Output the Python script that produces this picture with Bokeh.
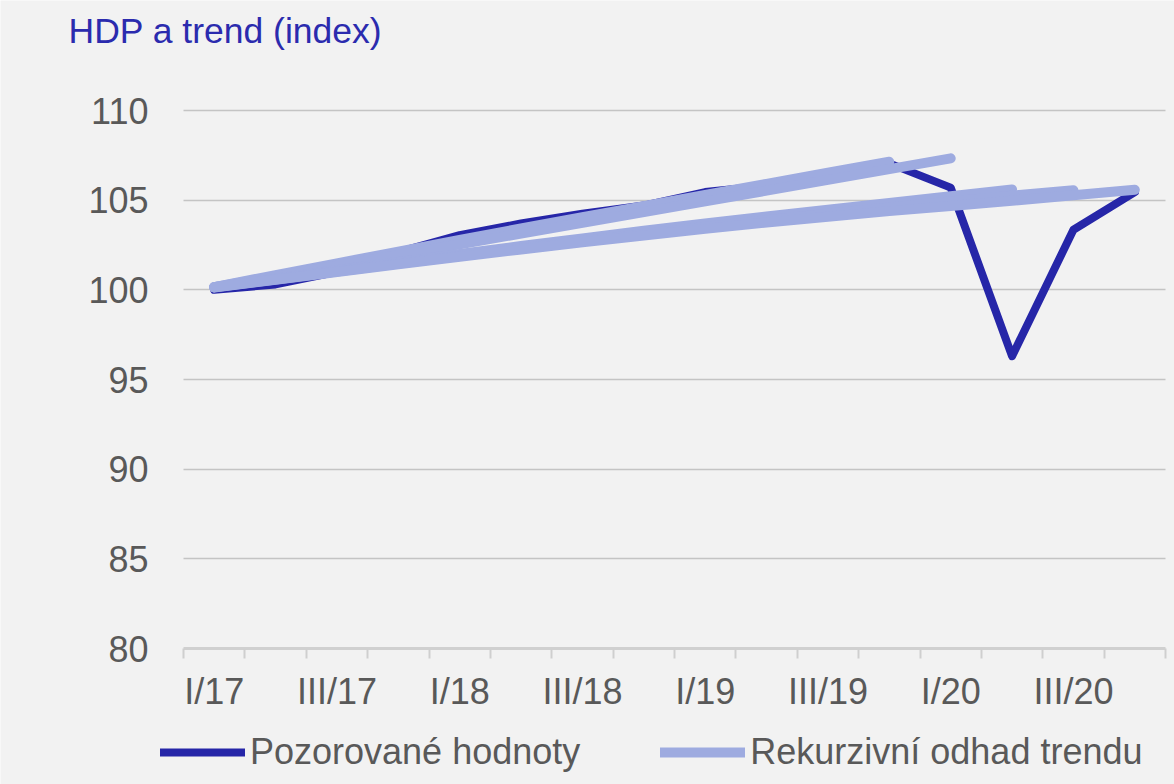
from bokeh.plotting import figure
from bokeh.models import (Range1d, FixedTicker, Legend, LegendItem, Label)
from bokeh.embed import file_html
from bokeh.resources import INLINE

# ---------------- data ----------------
quarters = ["I/17", "II/17", "III/17", "IV/17", "I/18", "II/18", "III/18", "IV/18",
            "I/19", "II/19", "III/19", "IV/19", "I/20", "II/20", "III/20", "IV/20"]
tick_labels = ["I/17", "III/17", "I/18", "III/18", "I/19", "III/19", "I/20", "III/20"]

observed = [100.0, 100.3, 101.0, 102.1, 103.05, 103.7, 104.25, 104.7,
            105.45, 105.8, 106.4, 107.05, 105.7, 96.3, 103.35, 105.45]

# recursive trend estimates, each ending at a later quarter
trend_iv19 = [100.15, 100.82, 101.48, 102.13, 102.78, 103.42, 104.05, 104.67,
              105.29, 105.91, 106.53, 107.14]
trend_i20 = [100.15, 100.75, 101.35, 101.94, 102.54, 103.14, 103.74, 104.34,
             104.93, 105.53, 106.13, 106.73, 107.33]
trend_ii20 = [100.15, 100.62, 101.09, 101.55, 102.0, 102.44, 102.87, 103.29,
              103.70, 104.09, 104.47, 104.84, 105.22, 105.6]
trend_iii20 = [100.14, 100.58, 101.02, 101.46, 101.89, 102.31, 102.72, 103.12,
               103.51, 103.88, 104.24, 104.59, 104.92, 105.25, 105.55]
trend_iv20 = [100.13, 100.56, 100.99, 101.42, 101.84, 102.25, 102.65, 103.03,
              103.40, 103.75, 104.08, 104.39, 104.68, 104.97, 105.27, 105.58]
trends = [trend_iv19, trend_i20, trend_ii20, trend_iii20, trend_iv20]

y_ticks = [80, 85, 90, 95, 100, 105, 110]

title_text = "HDP a trend (index)"
legend_observed = "Pozorované hodnoty"
legend_trend = "Rekurzivní odhad trendu"

# ---------------- style ----------------
BG = "#f2f2f2"
DARK = "#2626a8"
LIGHT = "#9eabe0"
TXT = "#595959"
FONT = "Liberation Sans"

W, H = 1174, 784
# pixel geometry of the plotting area inside the canvas
PX_LEFT, PX_RIGHT = 183, 1165          # category band edges
PX_TOP, PX_BOTTOM = 110, 648           # y = 110 and y = 80
n = len(quarters)
ppx = (PX_RIGHT - PX_LEFT) / n         # px per category
ppy = (PX_BOTTOM - PX_TOP) / (y_ticks[-1] - y_ticks[0])
x_lo = -PX_LEFT / ppx
x_hi = n + (W - PX_RIGHT) / ppx
y_lo = y_ticks[0] - (H - PX_BOTTOM) / ppy
y_hi = y_ticks[-1] + PX_TOP / ppy

p = figure(width=W, height=H, frame_width=W, frame_height=H,
           output_backend="svg", toolbar_location=None, title_location=None,
           x_range=Range1d(x_lo, x_hi), y_range=Range1d(y_lo, y_hi),
           min_border=0)
p.background_fill_color = BG
p.border_fill_color = BG
p.outline_line_color = None

xs = [i + 0.5 for i in range(n)]

# grid (horizontal lines only over the category span)
p.xgrid.grid_line_color = None
p.ygrid.ticker = FixedTicker(ticks=y_ticks[1:])
p.ygrid.grid_line_color = "#c4c4c4"
p.ygrid.grid_line_width = 1.3
try:
    p.ygrid.cross_bounds = (0, n)
except Exception:
    p.ygrid.grid_line_color = None
    p.segment(x0=[0] * (len(y_ticks) - 1), x1=[n] * (len(y_ticks) - 1),
              y0=y_ticks[1:], y1=y_ticks[1:], line_color="#c4c4c4", line_width=1.3)

# observed line
r_obs = p.line(xs, observed, line_color=DARK, line_width=8,
               line_join="round", line_cap="round")
# trend lines on top
r_tr = None
for t in trends:
    r = p.line(xs[:len(t)], t, line_color=LIGHT, line_width=10,
               line_join="round", line_cap="round")
    if r_tr is None:
        r_tr = r

# x axis pinned at y = 80
label_pos = [xs[quarters.index(l)] for l in tick_labels]
p.xaxis.fixed_location = y_ticks[0]
p.xaxis.bounds = (0, n)
p.xaxis.ticker = FixedTicker(ticks=label_pos, minor_ticks=list(range(n + 1)))
p.xaxis.major_label_overrides = {pos: lab for pos, lab in zip(label_pos, tick_labels)}
p.xaxis.major_tick_line_color = None
p.xaxis.major_tick_out = 0
p.xaxis.major_tick_in = 0
p.xaxis.minor_tick_line_color = "#cfcfcf"
p.xaxis.minor_tick_line_width = 2
p.xaxis.minor_tick_out = 10
p.xaxis.minor_tick_in = 0
p.xaxis.axis_line_color = "#d0d0d0"
p.xaxis.axis_line_width = 3
p.xaxis.major_label_text_font = FONT
p.xaxis.major_label_text_font_size = "36px"
p.xaxis.major_label_text_color = TXT
p.xaxis.major_label_standoff = 12

# y axis pinned at the left edge of the category span
p.yaxis.fixed_location = 0
p.yaxis.bounds = (y_ticks[0], y_ticks[-1])
p.yaxis.ticker = FixedTicker(ticks=y_ticks)
p.yaxis.axis_line_color = None
p.yaxis.major_tick_line_color = None
p.yaxis.minor_tick_line_color = None
p.yaxis.major_tick_out = 0
p.yaxis.major_label_standoff = 35
p.yaxis.major_label_text_font = FONT
p.yaxis.major_label_text_font_size = "36px"
p.yaxis.major_label_text_color = TXT

# title
p.add_layout(Label(x=(68 - PX_LEFT) / ppx, y=y_ticks[-1] + (PX_TOP - 30) / ppy,
                   text=title_text, text_font=FONT, text_font_size="35.5px",
                   text_color="#2b2bae", text_baseline="alphabetic",
                   text_align="left"))

# legend
legend = Legend(items=[LegendItem(label=legend_observed, renderers=[r_obs]),
                       LegendItem(label=legend_trend, renderers=[r_tr])],
                orientation="horizontal", location=(160, 11),
                glyph_width=85, glyph_height=30, label_standoff=5, spacing=80,
                padding=0, margin=0, border_line_color=None,
                background_fill_alpha=0,
                label_text_font=FONT, label_text_font_size="36px",
                label_text_color=TXT)
p.add_layout(legend)

open("out.html", "w").write(file_html(p, INLINE))
